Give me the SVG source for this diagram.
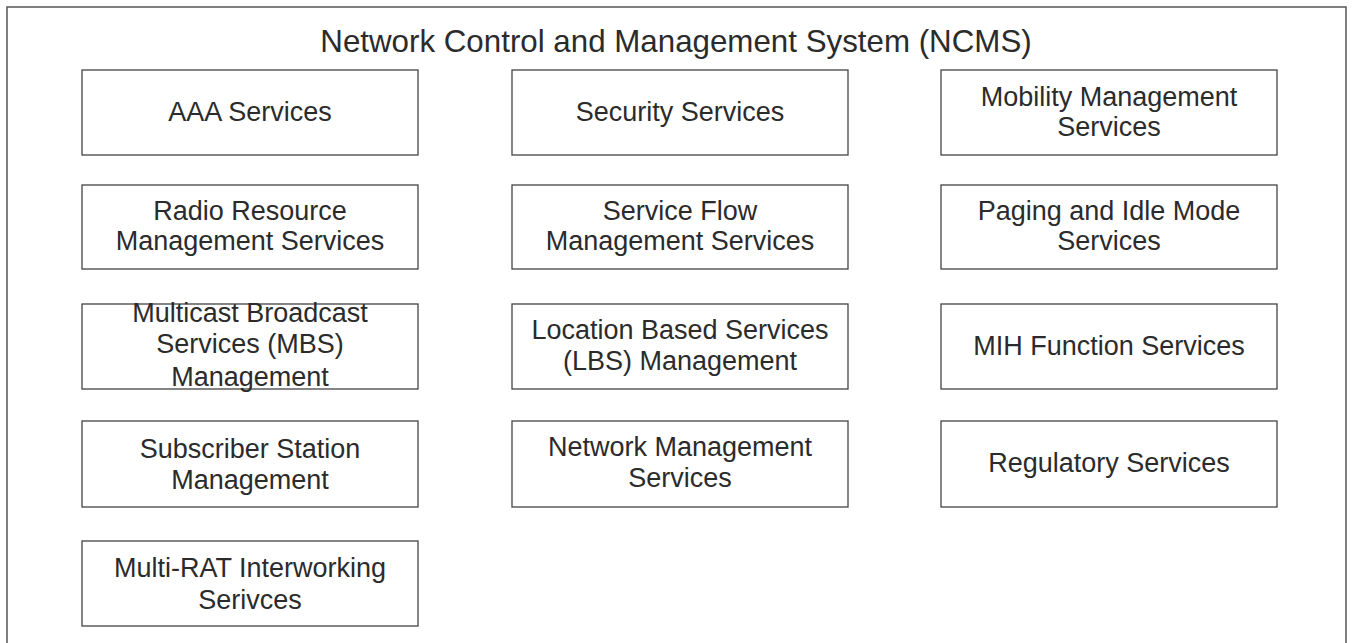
<svg xmlns="http://www.w3.org/2000/svg" width="1354" height="643" viewBox="0 0 1354 643">
<style>
.frame{fill:#fff;stroke:#555;stroke-width:1.5}
.box{fill:#fff;stroke:#444;stroke-width:1.3}
.t{font-family:"Liberation Sans",Arial,sans-serif;font-size:27px;fill:#2b2b2b;text-anchor:middle}
.title{font-family:"Liberation Sans",Arial,sans-serif;font-size:31.3px;fill:#2b2b2b;text-anchor:middle}
</style>
<rect x="0" y="0" width="1354" height="643" fill="#fff"/>
<g id="ncms">
<rect class="frame" x="7" y="7" width="1339" height="660"/>
<text class="title" x="676" y="52">Network Control and Management System (NCMS)</text>
</g>
<g id="aaa"><rect class="box" x="82" y="70" width="336" height="85"/><text class="t" x="250" y="121">AAA Services</text></g>
<g id="security"><rect class="box" x="512" y="70" width="336" height="85"/><text class="t" x="680" y="121">Security Services</text></g>
<g id="mobility"><rect class="box" x="941" y="70" width="336" height="85"/><text class="t" x="1109" y="106">Mobility Management</text><text class="t" x="1109" y="136">Services</text></g>
<g id="rrm"><rect class="box" x="82" y="185" width="336" height="84"/><text class="t" x="250" y="220">Radio Resource</text><text class="t" x="250" y="250">Management Services</text></g>
<g id="sfm"><rect class="box" x="512" y="185" width="336" height="84"/><text class="t" x="680" y="220">Service Flow</text><text class="t" x="680" y="250">Management Services</text></g>
<g id="paging"><rect class="box" x="941" y="185" width="336" height="84"/><text class="t" x="1109" y="220">Paging and Idle Mode</text><text class="t" x="1109" y="250">Services</text></g>
<g id="mbs"><rect class="box" x="82" y="304" width="336" height="85"/><text class="t" x="250" y="322">Multicast Broadcast</text><text class="t" x="250" y="353">Services (MBS)</text><text class="t" x="250" y="386">Management</text></g>
<g id="lbs"><rect class="box" x="512" y="304" width="336" height="85"/><text class="t" x="680" y="339">Location Based Services</text><text class="t" x="680" y="370">(LBS) Management</text></g>
<g id="mih"><rect class="box" x="941" y="304" width="336" height="85"/><text class="t" x="1109" y="355">MIH Function Services</text></g>
<g id="ssm"><rect class="box" x="82" y="421" width="336" height="86"/><text class="t" x="250" y="458">Subscriber Station</text><text class="t" x="250" y="489">Management</text></g>
<g id="nms"><rect class="box" x="512" y="421" width="336" height="86"/><text class="t" x="680" y="456">Network Management</text><text class="t" x="680" y="487">Services</text></g>
<g id="regulatory"><rect class="box" x="941" y="421" width="336" height="86"/><text class="t" x="1109" y="472">Regulatory Services</text></g>
<g id="multirat"><rect class="box" x="82" y="541" width="336" height="85"/><text class="t" x="250" y="577">Multi-RAT Interworking</text><text class="t" x="250" y="609">Serivces</text></g>
<g id="connectors"></g>
</svg>
